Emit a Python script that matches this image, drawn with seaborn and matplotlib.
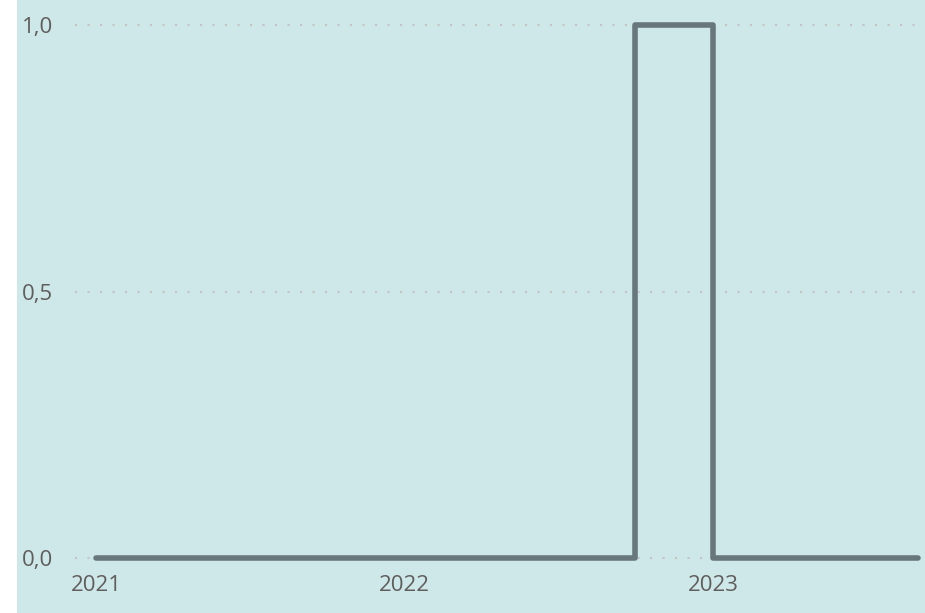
import pandas as pd
import matplotlib
matplotlib.use("Agg")
import matplotlib.pyplot as plt
import matplotlib.dates as mdates
from matplotlib.patches import Rectangle
from matplotlib.ticker import FuncFormatter
import seaborn as sns

# Monthly values, Jan 2021 - Sep 2023
months = pd.date_range("2021-01-01", "2023-09-01", freq="MS")
values = [0, 0, 0, 0, 0, 0, 0, 0, 0, 0, 0, 0,
          0, 0, 0, 0, 0, 0, 0, 0, 0, 1, 1, 1,
          0, 0, 0, 0, 0, 0, 0, 0, 0]
y_ticks = [0.0, 0.5, 1.0]

df = pd.DataFrame({"month": months, "value": values})

bg = "#cee7e8"
line_col = "#68777b"
text_col = "#605e5c"

sns.set_theme(style="white")
plt.rcParams["font.family"] = ["Open Sans", "DejaVu Sans"]

fig = plt.figure(figsize=(9.25, 6.13), dpi=100)
fig.patch.set_facecolor(bg)
fig.patches.append(Rectangle((0, 0), 17 / 925, 1, transform=fig.transFigure,
                             facecolor="white", edgecolor="none", zorder=-1))

ax = fig.add_axes([75 / 925, 55 / 613, 845 / 925, 533 / 613])
ax.set_facecolor(bg)

sns.lineplot(data=df, x="month", y="value", ax=ax, color=line_col,
             linewidth=4, drawstyle="steps-post", clip_on=False,
             solid_capstyle="round", solid_joinstyle="round", zorder=3)

ax.set_xlim(pd.Timestamp("2020-12-07"), pd.Timestamp("2023-09-03"))
ax.set_ylim(0, 1)
ax.set_yticks(y_ticks)
ax.yaxis.set_major_formatter(FuncFormatter(lambda v, p: f"{v:.1f}".replace(".", ",")))
ax.xaxis.set_major_locator(mdates.YearLocator())
ax.xaxis.set_major_formatter(mdates.DateFormatter("%Y"))

for y in y_ticks:
    ax.axhline(y, color="#c4c4c4", linewidth=1.5, linestyle=(0, (1, 5)),
               clip_on=False, zorder=1)

for s in ax.spines.values():
    s.set_visible(False)
ax.tick_params(axis="both", length=0, labelsize=16, labelcolor=text_col)
ax.tick_params(axis="y", pad=16)
ax.tick_params(axis="x", pad=12)
ax.set_xlabel("")
ax.set_ylabel("")

fig.savefig("out.png", dpi=100, facecolor=fig.get_facecolor())
